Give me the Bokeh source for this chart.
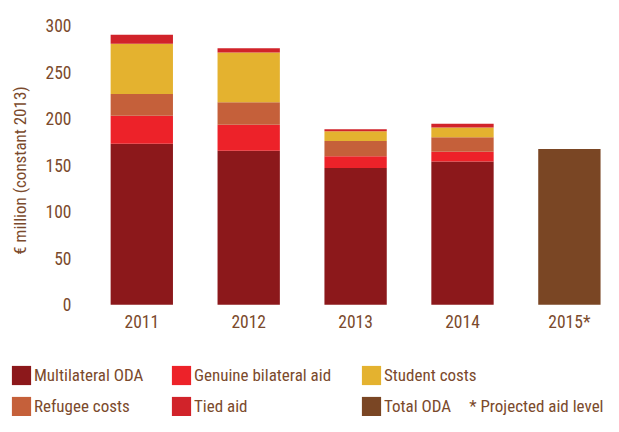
import math
from bokeh.plotting import figure
from bokeh.models import ColumnDataSource, FixedTicker, Legend, LegendItem, Label, Range1d
from bokeh.embed import file_html
from bokeh.resources import INLINE

years = ["2011", "2012", "2013", "2014", "2015*"]
multilateral = [173, 165.5, 147, 154]
genuine_bilateral = [30, 28, 12.5, 10.5]
refugee = [23.5, 24, 16.5, 15.5]
student = [54, 53.5, 10.5, 10.5]
tied = [9.5, 4.5, 2, 4]
total_oda = [167.5]
y_ticks = [0, 50, 100, 150, 200, 250, 300]
y_title = "€ million (constant 2013)"

FONT = "'Roboto Condensed', Roboto, sans-serif"
TXT = "#7b4a2c"
FS_TICK = "17.5px"
FS = "17px"

colors = ["#8c181b", "#ed2229", "#c5603a", "#e4b22f", "#d1232a", "#7a4624"]

src = ColumnDataSource(dict(
    x=list(range(4)),
    multi=multilateral, gen=genuine_bilateral, ref=refugee, stu=student, tied=tied,
))
src_total = ColumnDataSource(dict(x=[4], total=total_oda))

# frame spans the whole canvas below y=0 so the legend can sit inside it
p = figure(width=603, height=416, output_backend="svg", toolbar_location=None,
           x_range=Range1d(-1.2376, 4.319), y_range=Range1d(-120.0, 326.9),
           min_border_left=9, min_border_right=0, min_border_top=0, min_border_bottom=0)

keys = ["multi", "gen", "ref", "stu", "tied"]
rs = p.vbar_stack(keys, x="x", width=0.583, source=src,
                  color=colors[:5], line_color=None)
rt = p.vbar(x="x", top="total", width=0.583, source=src_total,
            color=colors[5], line_color=None)

p.xgrid.visible = False
p.ygrid.visible = False
p.outline_line_color = None

for ax in (p.xaxis[0], p.yaxis[0]):
    ax.axis_line_color = None
    ax.major_tick_line_color = None
    ax.minor_tick_line_color = None
    ax.major_tick_out = 0
    ax.major_tick_in = 0
    ax.major_label_text_font = FONT
    ax.major_label_text_font_size = FS_TICK
    ax.major_label_text_color = TXT

p.xaxis.ticker = FixedTicker(ticks=list(range(len(years))))
p.xaxis.major_label_overrides = {i: y for i, y in enumerate(years)}
p.xaxis.major_label_standoff = -105
p.yaxis.ticker = FixedTicker(ticks=y_ticks)
p.yaxis.major_label_standoff = -62

# y-axis title, centred on the value scale
p.add_layout(Label(x=10.5, y=246, x_units="screen", y_units="screen",
                   text=y_title, angle=math.pi / 2, text_font=FONT,
                   text_font_size=FS, text_color=TXT,
                   text_align="center", text_baseline="middle"))

cols = [
    ([("Multilateral ODA", rs[0]), ("Refugee costs", rs[2])], 0),
    ([("Genuine bilateral aid", rs[1]), ("Tied aid", rs[4])], 160),
    ([("Student costs", rs[3]), ("Total ODA", rt)], 350),
]
for items, xloc in cols:
    lg = Legend(items=[LegendItem(label=l, renderers=[r]) for l, r in items],
                location=(xloc, -1.5), orientation="vertical",
                glyph_width=24, glyph_height=24, label_height=24,
                label_standoff=1, spacing=7, padding=0, margin=0,
                border_line_color=None, background_fill_alpha=0,
                label_text_font=FONT, label_text_font_size=FS,
                label_text_color=TXT)
    p.add_layout(lg, "center")

p.add_layout(Label(x=594, y=10.5, x_units="screen", y_units="screen",
                   text="* Projected aid level", text_font=FONT,
                   text_font_size=FS, text_color=TXT,
                   text_align="right", text_baseline="middle"))

open("out.html", "w").write(file_html(p, INLINE))
